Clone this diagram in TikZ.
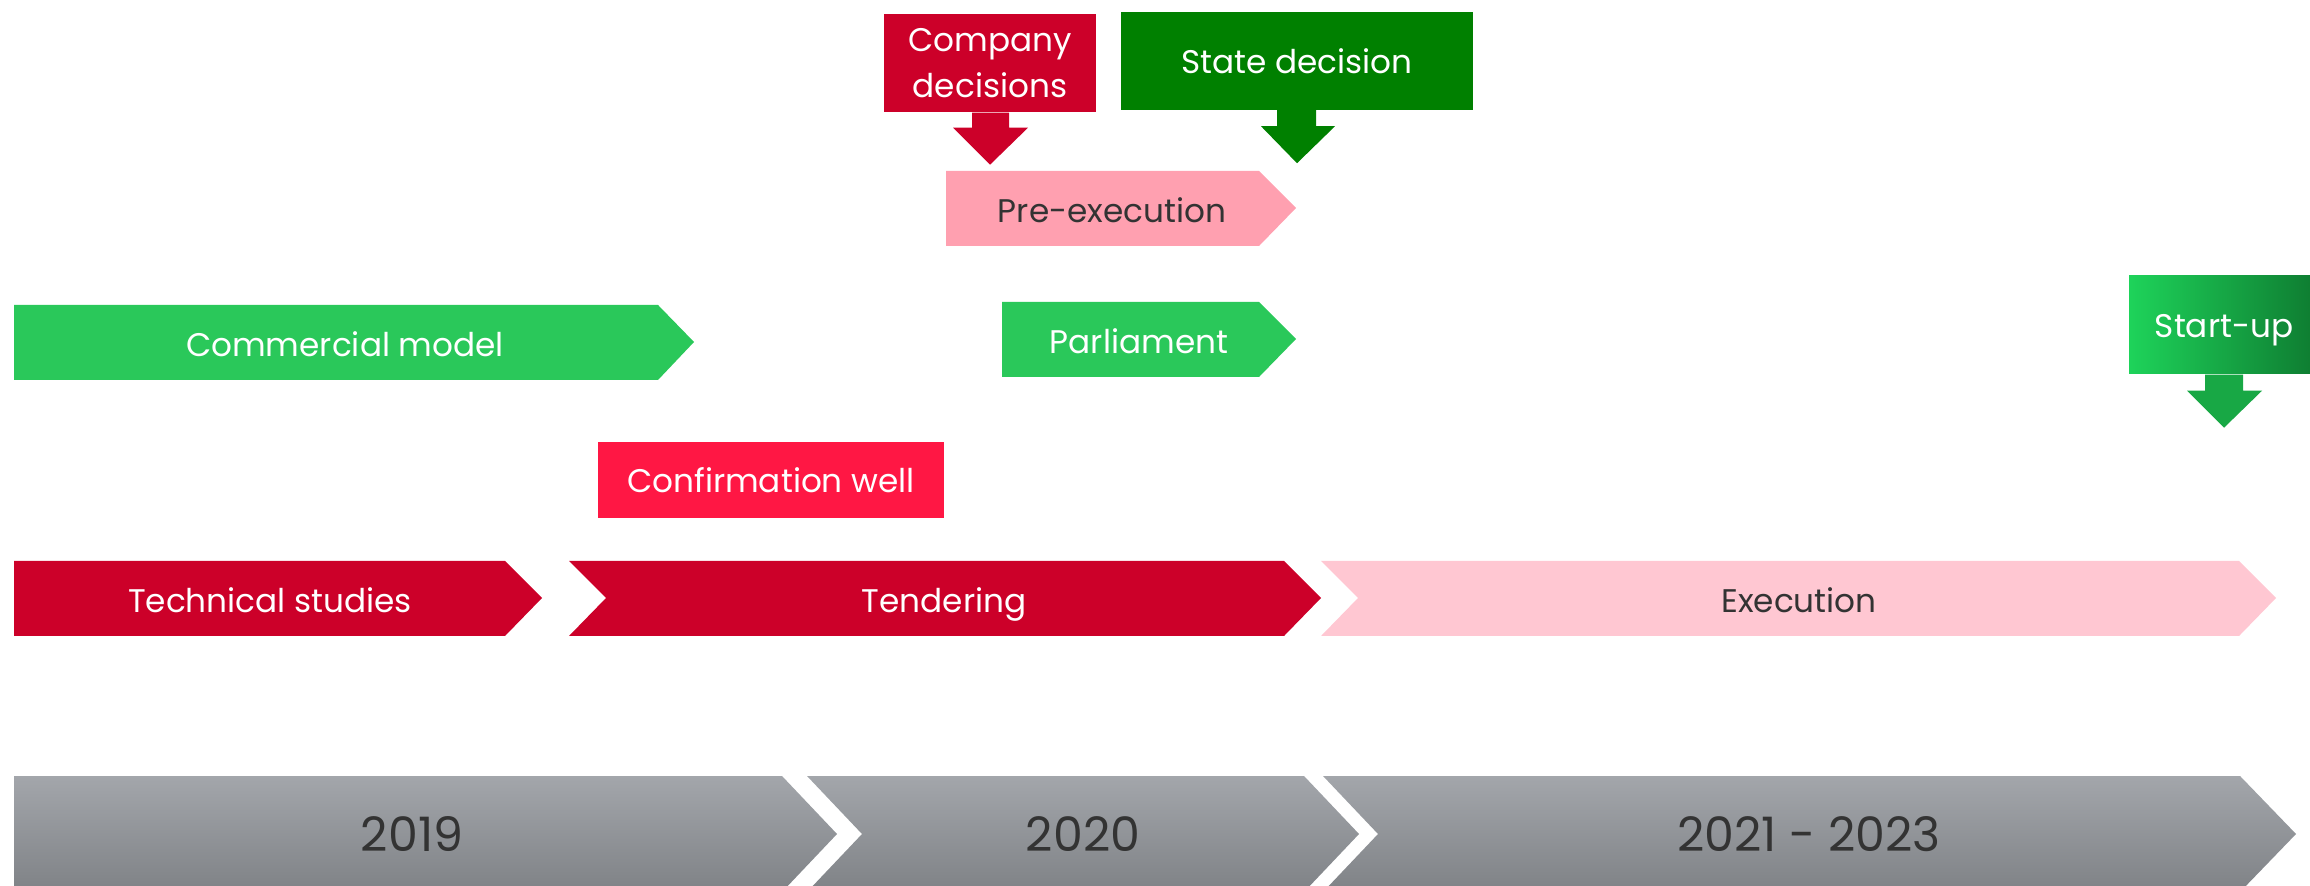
\documentclass[tikz,border=0pt]{standalone}
\usepackage{fontspec}
\setmainfont{Poppins}
\usetikzlibrary{calc}
\definecolor{crimson}{RGB}{204,0,41}
\definecolor{scarlet}{RGB}{255,23,68}
\definecolor{blush}{RGB}{255,199,210}
\definecolor{rose}{RGB}{255,160,176}
\definecolor{leaf}{RGB}{42,200,90}
\definecolor{forest}{RGB}{0,128,0}
\definecolor{sprout}{RGB}{30,211,90}
\definecolor{pine}{RGB}{14,122,48}
\definecolor{midgreen}{RGB}{24,168,69}
\definecolor{ink}{RGB}{51,51,51}
\definecolor{greytop}{RGB}{163,166,171}
\definecolor{greybot}{RGB}{127,130,134}
\tikzset{
  lbl/.style={text=white, font=\fontsize{9.3}{12}\selectfont, inner sep=0pt, text height=0.7em, text depth=0pt},
  dark/.style={lbl, text=ink},
  yearlbl/.style={text=ink, font=\fontsize{13.5}{16}\selectfont, inner sep=0pt},
  box/.style={inner sep=0pt, align=center}
}

\begin{document}
\begin{tikzpicture}[x=0.01cm,y=-0.01cm]
\useasboundingbox (0,0) rectangle (2310,886);

% years
\shade [top color=greytop, bottom color=greybot] (14,776) -- (782,776) -- (837,834) -- (782,892) -- (14,892) -- cycle;
\shade [top color=greytop, bottom color=greybot] (807,776) -- (1304,776) -- (1359,834) -- (1304,892) -- (807,892) -- (862,834) -- cycle;
\shade [top color=greytop, bottom color=greybot] (1323,776) -- (2240,776) -- (2296,834) -- (2240,892) -- (1323,892) -- (1378,834) -- cycle;
\node [yearlbl] (y19) at (412,834) {2019};
\node [yearlbl] (y20) at (1083,834) {2020};
\node [yearlbl] (y21) at (1809,834) {2021 - 2023};

% phases
\fill [crimson] (14,561) -- (505,561) -- (542,598) -- (505,636) -- (14,636) -- cycle;
\fill [crimson] (569,561) -- (1284,561) -- (1321,598) -- (1284,636) -- (569,636) -- (606,598) -- cycle;
\fill [blush] (1321,561) -- (2239,561) -- (2276,598) -- (2239,636) -- (1321,636) -- (1358,598) -- cycle;
\node [lbl] (tech) at (270,600) {Technical studies};
\node [lbl] (tender) at (944,600) {Tendering};
\node [dark] (exec) at (1799,600) {Execution};

\node [box, fill=scarlet, minimum width=3.46cm, minimum height=0.75cm] (well) at (771,480) {};
\node [lbl] at (well.center) {Confirmation well};

\fill [leaf] (14,305) -- (658,305) -- (694,342) -- (658,380) -- (14,380) -- cycle;
\node [lbl] (commercial) at (345,344) {Commercial model};
\fill [leaf] (1002,302) -- (1259,302) -- (1296,339) -- (1259,377) -- (1002,377) -- cycle;
\node [lbl] (parliament) at (1139,341) {Parliament};
\fill [rose] (946,171) -- (1259,171) -- (1296,208) -- (1259,246) -- (946,246) -- cycle;
\node [dark] (preexec) at (1112,210) {Pre-execution};

% decisions
\node [box, fill=crimson, minimum width=2.12cm, minimum height=0.98cm] (company) at (990,63) {};
\node [align=center, text=white, font=\fontsize{9.3}{13.2}\selectfont, inner sep=0pt] at (company.center) {Company\\decisions};
\fill [crimson] ($(company.south)+(-18,0)$) -- ++(0,15) -- ++(-19,0) -- ++(37,37) -- ++(38,-37) -- ++(-19,0) -- ++(0,-15) -- cycle;

\node [box, fill=forest, minimum width=3.52cm, minimum height=0.97cm] (state) at (1297,61) {};
\node [lbl] at (state.center) {State decision};
\fill [forest] ($(state.south)+(-20,0)$) -- ++(0,16) -- ++(-16,0) -- ++(36,37) -- ++(38,-37) -- ++(-19,0) -- ++(0,-16) -- cycle;

\shade [left color=sprout, right color=pine] (2129,276) rectangle (2319,374);
\node [box, minimum width=1.9cm, minimum height=0.98cm] (startup) at (2224,325) {};
\node [lbl] at (startup.center) {Start-up};
\fill [midgreen] ($(startup.south)+(-19,0)$) -- ++(0,16) -- ++(-18,0) -- ++(37,37) -- ++(38,-37) -- ++(-19,0) -- ++(0,-16) -- cycle;

\end{tikzpicture}
\end{document}
